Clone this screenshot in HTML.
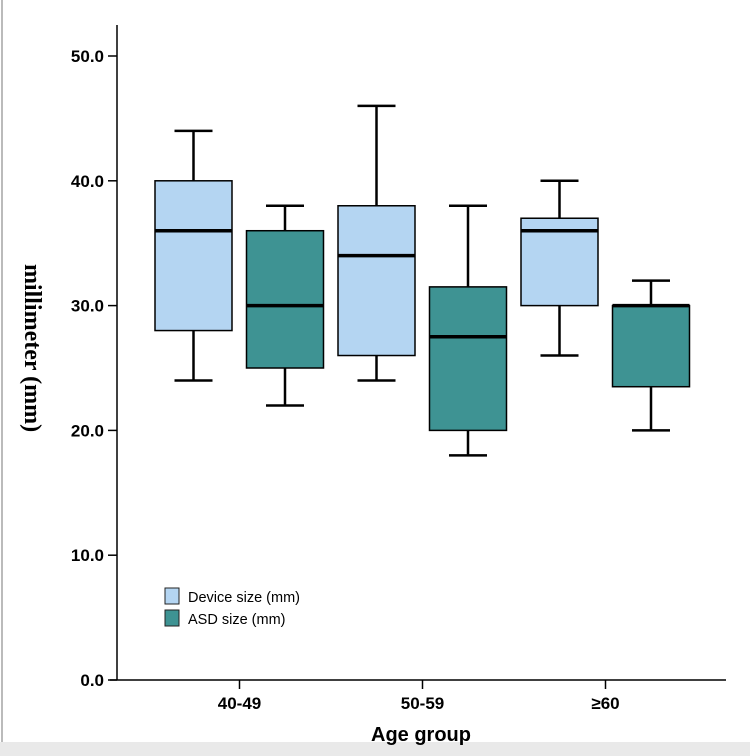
<!DOCTYPE html>
<html><head><meta charset="utf-8"><style>
body{margin:0;background:#fff;}
svg{display:block;font-family:"Liberation Sans",Arial,sans-serif;}
</style></head><body>
<svg id="chart" width="750" height="756">
<rect x="0" y="742" width="750" height="14" fill="#e9e9e9"/>
<line x1="2" y1="0" x2="2" y2="742" stroke="#bbb" stroke-width="2"/>
<g id="axes"></g>
<g id="boxes"></g>
<text x="25" y="348" transform="rotate(90 25 348)" text-anchor="middle" font-family="Liberation Serif,serif" font-weight="bold" font-size="24">millimeter (mm)</text>
<text x="421" y="741" text-anchor="middle" font-weight="bold" font-size="20">Age group</text>
<g>
<rect x="165" y="588" width="14" height="16" fill="#b4d5f2" stroke="#222"/>
<text x="188" y="602" font-size="14.5">Device size (mm)</text>
<rect x="165" y="610" width="14" height="16" fill="#3e9393" stroke="#222"/>
<text x="188" y="624" font-size="14.5">ASD size (mm)</text>
</g>
</svg>
<script>
const categories=["40-49","50-59","≥60"];
const yTicks=[0,10,20,30,40,50];
const deviceMin=[24,24,26],deviceQ1=[28,26,30],deviceMed=[36,34,36],deviceQ3=[40,38,37],deviceMax=[44,46,40];
const asdMin=[22,18,20],asdQ1=[25,20,23.5],asdMed=[30,27.5,30],asdQ3=[36,31.5,30],asdMax=[38,38,32];
const NS="http://www.w3.org/2000/svg";
const y=v=>680-v*12.48;
const tickX=i=>239.5+i*183;
const boxX=(i,s)=>193.5+i*183+s*91.5;
function mk(t,a,p){const e=document.createElementNS(NS,t);for(const k in a)e.setAttribute(k,a[k]);p.appendChild(e);return e;}
const ax=document.getElementById('axes');
let l=mk('line',{x1:117,y1:25,x2:117,y2:680,stroke:'#000','stroke-width':1.5},ax);


l=mk('line',{x1:110,y1:680,x2:726,y2:680,stroke:'#000','stroke-width':1.5},ax);


yTicks.forEach(v=>{
 const t=mk('line',{x1:108,y1:y(v),x2:117,y2:y(v),stroke:'#000','stroke-width':1.5},ax);
 
 
 const tx=mk('text',{x:104,y:y(v)+6,'text-anchor':'end','font-size':17,'font-weight':'bold'},ax);
 tx.textContent=v.toFixed(1);
 
 
});
categories.forEach((c,i)=>{
 const t=mk('line',{x1:tickX(i),y1:680,x2:tickX(i),y2:689,stroke:'#000','stroke-width':1.5},ax);
 
 
 const tx=mk('text',{x:tickX(i),y:709,'text-anchor':'middle','font-size':17,'font-weight':'bold'},ax);
 tx.textContent=c;
 
 
});
const bg=document.getElementById('boxes');
function box(cx,mn,q1,md,q3,mx,fill,name){
 const g=mk('g',{},bg);
 
 
 mk('line',{x1:cx,y1:y(mx),x2:cx,y2:y(mn),stroke:'#000','stroke-width':2.5},g);
 mk('line',{x1:cx-19,y1:y(mx),x2:cx+19,y2:y(mx),stroke:'#000','stroke-width':2.5},g);
 mk('line',{x1:cx-19,y1:y(mn),x2:cx+19,y2:y(mn),stroke:'#000','stroke-width':2.5},g);
 mk('rect',{x:cx-38.5,y:y(q3),width:77,height:y(q1)-y(q3),fill:fill,stroke:'#000','stroke-width':1.5},g);
 mk('line',{x1:cx-38.5,y1:y(md),x2:cx+38.5,y2:y(md),stroke:'#000','stroke-width':3.5},g);
}
categories.forEach((c,i)=>{
 box(boxX(i,0),deviceMin[i],deviceQ1[i],deviceMed[i],deviceQ3[i],deviceMax[i],'#b4d5f2','box-device-'+i);
 box(boxX(i,1),asdMin[i],asdQ1[i],asdMed[i],asdQ3[i],asdMax[i],'#3e9393','box-asd-'+i);
});
</script>
</body></html>
